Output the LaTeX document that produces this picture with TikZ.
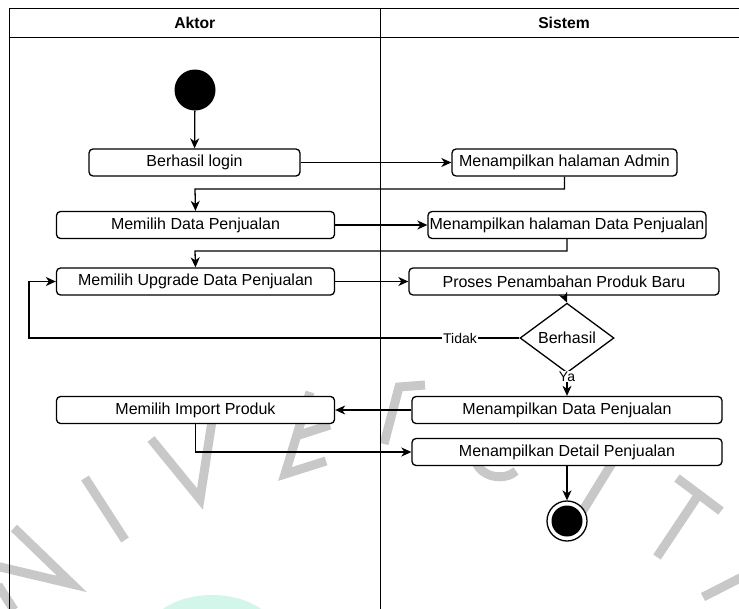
\documentclass[tikz,border=0pt]{standalone}
\usepackage{fontspec}
\setmainfont{Liberation Sans}
\usetikzlibrary{arrows.meta,shapes.geometric}
\definecolor{wmgray}{RGB}{200,200,200}
\definecolor{wmgreen}{RGB}{210,246,234}
\begin{document}
\begin{tikzpicture}[x=1pt,y=-1pt,
  lane/.style={draw=black, line width=1pt},
  act/.style={draw=black, fill=white, rounded corners=4pt, line width=1.3pt,
    inner sep=0pt, minimum height=27pt, font=\fontsize{16}{18}\selectfont},
  decision/.style={diamond, draw=black, fill=white, line width=1.3pt, inner sep=0pt,
    minimum width=94pt, minimum height=50pt, font=\fontsize{16}{18}\selectfont},
  initial/.style={circle, fill=black, minimum size=41pt, inner sep=0pt},
  final/.style={circle, draw=black, fill=white, line width=1.3pt, minimum size=40pt,
    inner sep=0pt, path picture={\fill[black] (path picture bounding box.center) circle (15.5pt);}},
  flow/.style={draw=black, line width=1.3pt, -{Stealth[length=10pt,width=9pt,inset=3pt]}},
  guard/.style={fill=white, inner sep=1pt, font=\fontsize{14}{16}\selectfont},
  head/.style={font=\bfseries\fontsize{15.7}{18}\selectfont},
  wm/.style={draw=wmgray, line width=9pt}
]
\useasboundingbox (0,0) rectangle (739,608);
\clip (0,0) rectangle (739,608);

% background lettering
\fill[wmgreen] (212,637) ellipse (66pt and 42pt);
\draw[wm] (14,528) -- (72,584) -- (-4,566);
\draw[wm] (-2,585) -- (14,610);
\draw[wm] (85,478) -- (125,540);
\draw[wm] (151,439) -- (200,499) -- (212,421);
\draw[wm] (326,461) -- (285,474) -- (310,392);
\draw[wm] (296,436) -- (330,425);
\draw[wm] (384,444) -- (399,387) -- (425,385);
\draw[wm] (476,462) .. controls (482,478) and (505,481) .. (516,471);
\draw[wm] (625,442) -- (582,512);
\draw[wm] (677,478) -- (721,511);
\draw[wm] (699,494) -- (657,557);
\draw[wm] (703,597) -- (748,574);

% swimlanes
\draw[lane] (9.5,8) rectangle (748,640);
\draw[lane] (9.5,37) -- (748,37);
\draw[lane] (380,8) -- (380,640);
\node[head] (hAktor) at (194.75,22.5) {Aktor};
\node[head] (hSistem) at (564,22.5) {Sistem};

% activity nodes
\node[initial] (start) at (195,90) {};
\node[act, minimum width=211pt] (login) at (194.5,162.5) {Berhasil login};
\node[act, minimum width=225pt] (admin) at (564.5,162.5) {Menampilkan halaman Admin};
\node[act, minimum width=278pt] (pilihData) at (195.5,225) {Memilih Data Penjualan};
\node[act, minimum width=278pt] (halData) at (567,225) {Menampilkan halaman Data Penjualan};
\node[act, minimum width=278pt] (upgrade) at (195.5,281.5) {Memilih Upgrade Data Penjualan};
\node[act, minimum width=310pt] (proses) at (564,281.5) {Proses Penambahan Produk Baru};
\node[decision] (cek) at (567,338) {Berhasil};
\node[act, minimum width=310pt] (tampil) at (567,410) {Menampilkan Data Penjualan};
\node[act, minimum width=278pt] (impor) at (195.5,410) {Memilih Import Produk};
\node[act, minimum width=310pt] (detail) at (567,452) {Menampilkan Detail Penjualan};
\node[final] (end) at (567,521) {};

% control flow
\draw[flow] (start) -- (login);
\draw[flow] (login) -- (admin);
\draw[flow] (admin.south) |- (195,189) -- (pilihData.north);
\draw[flow] (pilihData) -- (halData);
\draw[flow] (halData.south) |- (195,251) -- (upgrade.north);
\draw[flow] (upgrade) -- (proses);
\draw[flow] (proses.south) -- (cek.north);
\draw[flow] (cek.west) -- (29,338) |- (upgrade.west);
\node[guard] (lblTidak) at (460,338) {Tidak};
\draw[flow] (cek.south) -- (tampil.north);
\node[guard] (lblYa) at (567,376.5) {Ya};
\draw[flow] (tampil) -- (impor);
\draw[flow] (impor.south) |- (detail.west);
\draw[flow] (detail.south) -- (end.north);
\end{tikzpicture}
\end{document}
